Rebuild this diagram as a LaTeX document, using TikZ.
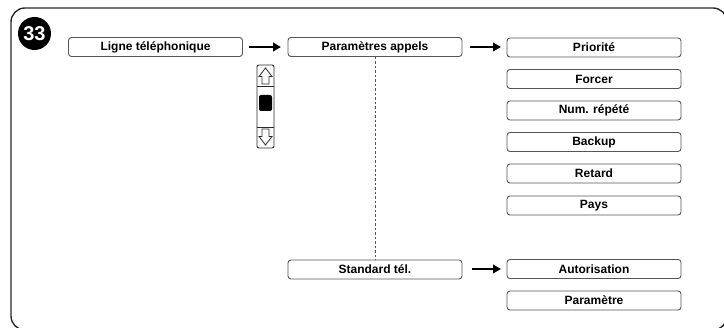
\documentclass[tikz,border=0pt]{standalone}
\usepackage{fontspec}
\setsansfont{Liberation Sans}
\usetikzlibrary{arrows.meta}
\definecolor{boxline}{HTML}{555555}
\definecolor{frameline}{HTML}{2A2A2A}
\tikzset{
  menubox/.style={draw=boxline, line width=0.9pt, rounded corners=3pt, minimum width=174pt, minimum height=19pt, inner sep=0pt, font=\sffamily\bfseries\fontsize{12}{14}\selectfont},
  flowarrow/.style={line width=2.4pt, -{Triangle[length=8pt,width=8.5pt]}, black},
  dotline/.style={draw=boxline, line width=1pt, dash pattern=on 2.5pt off 2pt}
}
\begin{document}
\begin{tikzpicture}[x=1pt,y=-1pt]
\useasboundingbox (0,0) rectangle (724,328);
\clip (0,0) rectangle (724,328);
% frame
\draw[frameline, line width=1.4pt, rounded corners=14pt] (11,8) rectangle (727,330);
% badge
\node[circle, fill=black, minimum size=33pt, inner sep=0pt, text=white, font=\sffamily\bfseries\fontsize{20}{20}\selectfont] (badge) at (34.5,33.5) {33};
% boxes
\node[menubox] (ligne) at (155.5,47) {Ligne téléphonique};
\node[menubox] (appels) at (375,47) {Paramètres appels};
\node[menubox] (prio) at (594,47.5) {Priorité};
\node[menubox] (forcer) at (594,79) {Forcer};
\node[menubox] (num) at (594,110.5) {Num. répété};
\node[menubox] (backup) at (594,142) {Backup};
\node[menubox] (retard) at (594,173.5) {Retard};
\node[menubox] (pays) at (594,205.5) {Pays};
\node[menubox] (std) at (375,269.5) {Standard tél.};
\node[menubox] (auto) at (594,269) {Autorisation};
\node[menubox] (param) at (594,300.5) {Paramètre};
% arrows
\coordinate (a1s) at (249,47); \coordinate (a1e) at (281,47);
\coordinate (a2s) at (470,47); \coordinate (a2e) at (501,47);
\coordinate (a3s) at (472,269); \coordinate (a3e) at (501,269);
\draw[flowarrow] (a1s) -- (a1e);
\draw[flowarrow] (a2s) -- (a2e);
\draw[flowarrow] (a3s) -- (a3e);
% dashed connector
\draw[dotline] (appels.south) -- (std.north);
% scroll bar
\draw[frameline, line width=0.9pt, rounded corners=2pt] (257,65) rectangle (274,148);
\draw[frameline, line width=0.9pt] (257,86) -- (274,86);
\draw[frameline, line width=0.9pt] (257,127) -- (274,127);
\fill[black, rounded corners=2pt] (259,95) rectangle (272,111);
\draw[frameline, line width=0.8pt, line join=miter] (262,84) -- (262,76.5) -- (259,76.5) -- (265.5,68) -- (272,76.5) -- (269,76.5) -- (269,84) -- cycle;
\draw[frameline, line width=0.8pt, line join=miter] (262,129) -- (262,136.5) -- (259,136.5) -- (265.5,145) -- (272,136.5) -- (269,136.5) -- (269,129) -- cycle;
\end{tikzpicture}
\end{document}
